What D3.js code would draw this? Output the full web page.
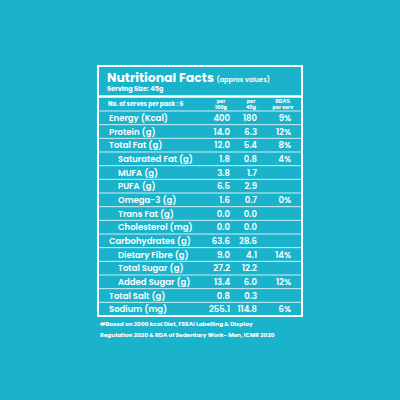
<!DOCTYPE html><html><head><meta charset="utf-8"><script src="https://cdn.jsdelivr.net/npm/d3@7"></script>
<style>body{margin:0;background:#1ab3cb}</style></head><body><script>
const nutrients=["Energy (Kcal)","Protein (g)","Total Fat (g)","Saturated Fat (g)","MUFA (g)","PUFA (g)","Omega-3 (g)","Trans Fat (g)","Cholesterol (mg)","Carbohydrates (g)","Dietary Fibre (g)","Total Sugar (g)","Added Sugar (g)","Total Salt (g)","Sodium (mg)"];
const indent=[0,0,0,1,1,1,1,1,1,0,1,1,1,0,0];
const per100=["400","14.0","12.0","1.8","3.8","6.5","1.6","0.0","0.0","63.6","9.0","27.2","13.4","0.8","255.1"];
const per45=["180","6.3","5.4","0.8","1.7","2.9","0.7","0.0","0.0","28.6","4.1","12.2","6.0","0.3","114.8"];
const rda=["9%","12%","8%","4%","","","0%","","","","14%","","12%","","6%"];
const W=400,H=400,F="Poppins, Lato, 'Open Sans', sans-serif";
const svg=d3.select("body").append("svg").attr("width",W).attr("height",H);
svg.append("rect").attr("width",W).attr("height",H).attr("fill","#1ab3cb");
const bx0=98,bx1=302,btop=66,bbot=316;
const y=d3.scaleBand().domain(d3.range(nutrients.length)).range([111,bbot]);
svg.append("rect").attr("x",bx0).attr("y",btop).attr("width",bx1-bx0).attr("height",bbot-btop).attr("fill","none").attr("stroke","#fff").attr("stroke-width",2);
svg.append("text").attr("x",107).attr("y",82).attr("fill","#fff").attr("font-family",F).attr("font-weight",700).attr("font-size",12.5).text("Nutritional Facts ").append("tspan").attr("font-size",6.5).attr("font-weight",600).text("(approx values)");
svg.append("text").attr("x",107).attr("y",91).attr("fill","#fff").attr("font-family",F).attr("font-weight",700).attr("font-size",6.5).text("Serving Size: 45g");
svg.append("line").attr("x1",bx0).attr("x2",bx1).attr("y1",96.5).attr("y2",96.5).attr("stroke","#fff").attr("stroke-width",2.5);
const hdr=svg.append("g").attr("fill","#fff").attr("font-family",F).attr("font-weight",700).attr("font-size",6);
hdr.append("text").attr("x",108).attr("y",106).text("No. of serves per pack : 6");
[[221,"per","100g"],[251,"per","45g"],[283,"RDA%","per serv"]].forEach(([cx,a,b])=>{
 hdr.append("text").attr("x",cx).attr("y",102.5).attr("text-anchor","middle").attr("font-size",5).text(a);
 hdr.append("text").attr("x",cx).attr("y",108.5).attr("text-anchor","middle").attr("font-size",5).text(b);});
const rows=svg.append("g").selectAll("g").data(nutrients).join("g").attr("transform",(d,i)=>`translate(0,${y(i)})`);
rows.append("line").attr("x1",bx0).attr("x2",bx1).attr("y1",0).attr("y2",0).attr("stroke","#fff").attr("stroke-width",0.8);
const bh=y.bandwidth();
const t=(sel,xp,anchor,f)=>sel.append("text").attr("x",xp).attr("y",bh/2+3.2).attr("text-anchor",anchor).attr("fill","#fff").attr("font-family",F).attr("font-weight",600).attr("font-size",8.5).text(f);
t(rows,(d,i)=>indent[i]?118:109,"start",d=>d);
t(rows,230,"end",(d,i)=>per100[i]);
t(rows,257,"end",(d,i)=>per45[i]);
t(rows,291,"end",(d,i)=>rda[i]);
const fn=svg.append("g").attr("fill","#fff").attr("font-family",F).attr("font-weight",700).attr("font-size",5.8);
fn.append("text").attr("x",100).attr("y",326).text("#Based on 2000 kcal Diet, FSSAI Labelling & Display");
fn.append("text").attr("x",100).attr("y",337).text("Regulation 2020 & RDA of Sedentary Work- Men, ICMR 2020");
</script></body></html>
